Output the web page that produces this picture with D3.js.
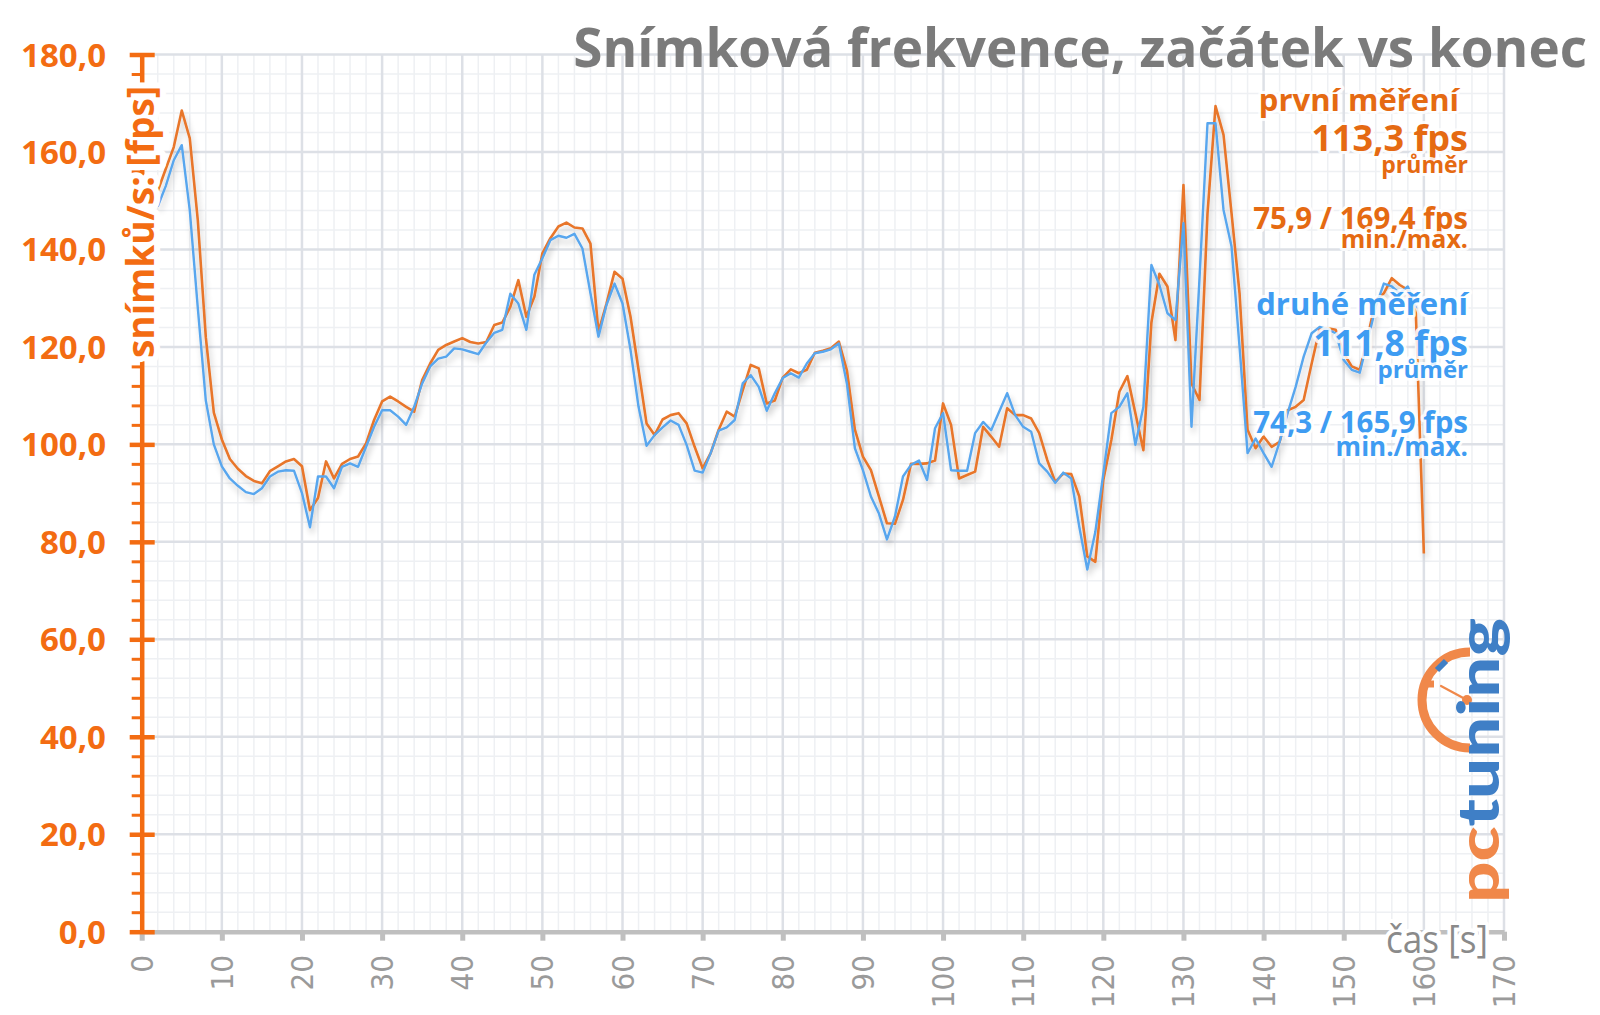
<!DOCTYPE html>
<html><head><meta charset="utf-8">
<script src="https://cdn.jsdelivr.net/npm/d3@7"></script>
<style>html,body{margin:0;padding:0;background:#fff;} svg{display:block;}</style>
</head><body>
<svg id="chart" width="1600" height="1015"></svg>
<script>
// ---------------- DATA ----------------
const secondsFirst = [2,3,4,5,6,7,8,9,10,11,12,13,14,15,16,17,18,19,20,21,22,23,24,25,26,27,28,29,30,31,32,33,34,35,36,37,38,39,40,41,42,43,44,45,46,47,48,49,50,51,52,53,54,55,56,57,58,59,60,61,62,63,64,65,66,67,68,69,70,71,72,73,74,75,76,77,78,79,80,81,82,83,84,85,86,87,88,89,90,91,92,93,94,95,96,97,98,99,100,101,102,103,104,105,106,107,108,109,110,111,112,113,114,115,116,117,118,119,120,121,122,123,124,125,126,127,128,129,130,131,132,133,134,135,136,137,138,139,140,141,142,143,144,145,146,147,148,149,150,151,152,153,154,155,156,157,158,159,160];
const fpsFirst = [152,156.5,161,168.5,162.8,146,122,106.5,101,97,95,93.5,92.5,92,94.5,95.5,96.5,97,95.5,86.5,89,96.5,93,96,97,97.5,100.2,105,108.8,109.8,108.8,107.7,106.7,113.2,116.6,119.4,120.4,121.1,121.8,121,120.7,121,124.5,125,128.2,133.7,126.2,130.3,139.2,142.3,144.7,145.5,144.5,144.3,141.2,123.1,128.9,135.4,134,126.2,115.3,104.3,101.9,105.1,106,106.4,104.3,99.5,95.1,98.2,103,106.7,105.7,111.1,116.3,115.6,108.4,109,113.7,115.4,114.6,115.3,118.8,119.2,119.7,121.1,115.2,103,97.5,94.7,89.3,83.8,83.7,88.6,96,96,96.1,96.7,108.4,104,93,93.7,94.4,103.6,101.6,99.5,107.4,106,106,105.3,102.3,96.8,92.3,94,93.9,89.3,77,75.9,92.7,100.9,110.8,114,106.4,98.8,125,135,132.4,121.4,153.2,112.5,109.1,147.4,169.4,163.5,147.4,131,103,99.2,101.6,99.5,100.5,107,107.7,109.1,116.6,123.8,123.8,123.5,118.7,116,115.3,122.1,129.6,131,134.1,132.7,131.7,126.9,77.6];
const secondsSecond = [2,3,4,5,6,7,8,9,10,11,12,13,14,15,16,17,18,19,20,21,22,23,24,25,26,27,28,29,30,31,32,33,34,35,36,37,38,39,40,41,42,43,44,45,46,47,48,49,50,51,52,53,54,55,56,57,58,59,60,61,62,63,64,65,66,67,68,69,70,71,72,73,74,75,76,77,78,79,80,81,82,83,84,85,86,87,88,89,90,91,92,93,94,95,96,97,98,99,100,101,102,103,104,105,106,107,108,109,110,111,112,113,114,115,116,117,118,119,120,121,122,123,124,125,126,127,128,129,130,131,132,133,134,135,136,137,138,139,140,141,142,143,144,145,146,147,148,149,150,151,152,153,154,155,156,157,158,159];
const fpsSecond = [148.8,153,158.3,161.4,148,128,109,100,95.5,93,91.5,90.2,89.8,91,93.4,94.4,94.7,94.6,90,83,93.4,93.4,91,95.4,96.1,95.4,99.5,103.6,107,107,105.7,104,107.7,112.5,116,117.6,118,119.7,119.5,119,118.5,120.9,122.9,123.5,130.9,128.9,123.5,134.8,138.2,141.9,142.8,142.4,143.2,140.2,131,122.1,128.6,133,128.9,119.4,107.7,99.7,101.9,103.5,104.9,104,99.9,94.6,94.2,98.2,102.8,103.5,105,112.5,114.2,111.8,106.9,110.5,113.6,114.6,113.7,116.6,118.7,119,119.5,120.7,112.5,99.2,94.7,89.3,85.8,80.5,85.2,93.4,95.8,96.7,92.7,103.3,106.4,94.7,94.6,94.6,102.3,104.6,102.9,106.7,110.5,106,103.6,102.6,96.1,94.4,92.1,94.2,93,83.1,74.3,82,94,106.4,107.7,110.5,99.9,107.7,136.8,132.7,126.9,125.5,145.4,103.6,134,165.9,165.9,148.1,140.6,120,98.2,101.2,98.2,95.4,100.5,106.4,111.8,118,122.8,124.1,123.6,122.8,117.3,115.3,114.7,121.4,128.2,133,132.4,131,132.4,128];

const xTickValues = [0,10,20,30,40,50,60,70,80,90,100,110,120,130,140,150,160,170];
const yTickValues = [0,20,40,60,80,100,120,140,160,180];
const yTickLabels = ["0,0","20,0","40,0","60,0","80,0","100,0","120,0","140,0","160,0","180,0"];

const titleText = "Snímková frekvence, začátek vs konec";
const yAxisTitle = "snímků/s: [fps]";
const xAxisTitle = "čas [s]";
const legendFirst = ["první měření","113,3 fps","průměr","75,9 / 169,4 fps","min./max."];
const legendSecond = ["druhé měření","111,8 fps","průměr","74,3 / 165,9 fps","min./max."];

// ---------------- STYLE ----------------
const C = {
  orangeLine: "#E8762C", blueLine: "#58A6EE",
  axisOrange: "#F36C12", legendOrange: "#E56A12", legendBlue: "#3E9CF2",
  title: "#7B7B7B", xText: "#9A9A9A", xAxis: "#BFBFBF",
  gridMajor: "#DDE0E6", gridMinor: "#EEF0F3",
  logoOrange: "#F0884A", logoBlue: "#3F7FC6"
};

const svg = d3.select("#chart");
const x = d3.scaleLinear().domain([0,170]).range([141.7,1504]);
const y = d3.scaleLinear().domain([0,180]).range([931.7,54.5]);

const defs = svg.append("defs");
const f = defs.append("filter").attr("id","shadow").attr("filterUnits","userSpaceOnUse")
  .attr("x",0).attr("y",0).attr("width",1600).attr("height",1015);
f.append("feGaussianBlur").attr("in","SourceAlpha").attr("stdDeviation",3).attr("result","b");
f.append("feOffset").attr("in","b").attr("dx",2).attr("dy",5).attr("result","o");
const ct = f.append("feComponentTransfer").attr("in","o").attr("result","s");
ct.append("feFuncA").attr("type","linear").attr("slope",0.22);
const fm = f.append("feMerge");
fm.append("feMergeNode").attr("in","s");
fm.append("feMergeNode").attr("in","SourceGraphic");

// ---------------- GRID ----------------
const grid = svg.append("g");
const minorX = d3.range(0,171,2), minorY = d3.range(0,181,4);
grid.selectAll(".vx").data(minorX.filter(d=>d%10!==0)).join("line")
  .attr("x1",d=>x(d)).attr("x2",d=>x(d)).attr("y1",y(180)).attr("y2",y(0))
  .attr("stroke",C.gridMinor).attr("stroke-width",1.5);
grid.selectAll(".hy").data(minorY.filter(d=>d%20!==0)).join("line")
  .attr("y1",d=>y(d)).attr("y2",d=>y(d)).attr("x1",x(0)).attr("x2",x(170))
  .attr("stroke",C.gridMinor).attr("stroke-width",1.5);
grid.selectAll(".VX").data(xTickValues).join("line")
  .attr("x1",d=>x(d)).attr("x2",d=>x(d)).attr("y1",y(180)).attr("y2",y(0))
  .attr("stroke",C.gridMajor).attr("stroke-width",2.5);
grid.selectAll(".HY").data(yTickValues).join("line")
  .attr("y1",d=>y(d)).attr("y2",d=>y(d)).attr("x1",x(0)).attr("x2",x(170))
  .attr("stroke",C.gridMajor).attr("stroke-width",2.5);

// ---------------- LOGO ----------------
const logo = svg.append("g");
logo.append("path").attr("d","M1470,652 A48,48 0 0 0 1470,748")
  .attr("fill","none").attr("stroke",C.logoOrange).attr("stroke-width",9);
logo.append("line").attr("x1",1437).attr("y1",670).attr("x2",1446).attr("y2",661)
  .attr("stroke",C.logoBlue).attr("stroke-width",6);
logo.append("line").attr("x1",1426).attr("y1",684).attr("x2",1434).attr("y2",684)
  .attr("stroke",C.logoOrange).attr("stroke-width",7);
logo.append("line").attr("x1",1467).attr("y1",700).attr("x2",1441).attr("y2",686)
  .attr("stroke",C.logoOrange).attr("stroke-width",2.2).attr("stroke-linecap","round");
logo.append("circle").attr("cx",1467).attr("cy",700).attr("r",5).attr("fill",C.logoOrange);
const lt = logo.append("text").attr("transform","translate(1499,903) rotate(-90)")
  .attr("font-family","Lato, 'Open Sans', sans-serif").attr("font-weight",900)
  .attr("font-size",58).attr("textLength",285).attr("lengthAdjust","spacingAndGlyphs");
lt.append("tspan").attr("fill",C.logoOrange).text("pc");
lt.append("tspan").attr("fill",C.logoBlue).text("tuning");

// ---------------- LINES ----------------
const line = d3.line().x(d=>x(d[0])).y(d=>y(d[1]));
const lines = svg.append("g").attr("filter","url(#shadow)");
lines.append("path").datum(d3.zip(secondsFirst,fpsFirst)).attr("d",line)
  .attr("fill","none").attr("stroke",C.orangeLine).attr("stroke-width",2.6).attr("stroke-linejoin","round");
lines.append("path").datum(d3.zip(secondsSecond,fpsSecond)).attr("d",line)
  .attr("fill","none").attr("stroke",C.blueLine).attr("stroke-width",2.4).attr("stroke-linejoin","round");

// ---------------- X AXIS ----------------
const xAxisG = svg.append("g").attr("transform",`translate(0,${y(0)})`)
  .call(d3.axisBottom(x).tickValues(xTickValues).tickSize(9).tickSizeOuter(0).tickFormat(""));
xAxisG.select(".domain").attr("stroke",C.xAxis).attr("stroke-width",4.5);
xAxisG.selectAll(".tick line").attr("stroke",C.xAxis).attr("stroke-width",5);
svg.append("g").selectAll("text").data(xTickValues).join("text")
  .attr("transform",d=>`translate(${x(d)+11},955) rotate(-90)`)
  .attr("text-anchor","end").attr("fill",C.xText)
  .attr("font-family","'Liberation Sans Narrow','DejaVu Sans Condensed',sans-serif")
  .attr("font-size",31).text(d=>d);
svg.append("text").attr("x",1386).attr("y",953).attr("fill","#8A8A8A")
  .attr("font-family","'Open Sans',sans-serif").attr("font-size",38)
  .attr("textLength",102).attr("lengthAdjust","spacingAndGlyphs")
  .attr("stroke","#fff").attr("stroke-width",8).attr("paint-order","stroke").attr("stroke-linejoin","round")
  .text(xAxisTitle);

// ---------------- Y AXIS ----------------
const yMinor = d3.range(0,181,4).filter(d=>d%20!==0);
const yMinG = svg.append("g").attr("transform",`translate(${x(0)},0)`)
  .call(d3.axisLeft(y).tickValues(yMinor).tickSize(10).tickSizeOuter(0).tickFormat(""));
yMinG.select(".domain").remove();
yMinG.selectAll(".tick line").attr("stroke",C.axisOrange).attr("stroke-width",3);
const yAxisG = svg.append("g").attr("transform",`translate(${x(0)},0)`)
  .call(d3.axisLeft(y).tickValues(yTickValues).tickSize(12).tickSizeOuter(0).tickFormat(""));
yAxisG.select(".domain").attr("stroke",C.axisOrange).attr("stroke-width",4.5);
yAxisG.selectAll(".tick line").attr("x2",-12).attr("x1",13).attr("stroke",C.axisOrange).attr("stroke-width",4.5);
svg.append("g").selectAll("text").data(yTickValues).join("text")
  .attr("x",106).attr("y",d=>y(d)+12).attr("text-anchor","end").attr("fill",C.axisOrange)
  .attr("font-family","'Open Sans',sans-serif").attr("font-weight",700).attr("font-size",33)
  .text((d,i)=>yTickLabels[i]);
svg.append("text").attr("transform",`translate(154,222) rotate(-90)`)
  .attr("text-anchor","middle").attr("fill",C.axisOrange)
  .attr("font-family","'Open Sans',sans-serif").attr("font-weight",700).attr("font-size",37)
  .attr("stroke","#fff").attr("stroke-width",12).attr("paint-order","stroke").attr("stroke-linejoin","round")
  .text(yAxisTitle);

// ---------------- TITLE ----------------
svg.append("text").attr("x",1587).attr("y",67).attr("text-anchor","end").attr("fill",C.title)
  .attr("font-family","'Open Sans',sans-serif").attr("font-weight",700).attr("font-size",53)
  .text(titleText);

// ---------------- LEGEND TEXT ----------------
function legend(lines, color, ys, sizes, xs) {
  svg.append("g").selectAll("text").data(lines).join("text")
    .attr("x",(d,i)=>xs[i]).attr("y",(d,i)=>ys[i]).attr("text-anchor","end").attr("fill",color)
    .attr("font-family","'Open Sans',sans-serif").attr("font-weight",700)
    .attr("font-size",(d,i)=>sizes[i])
    .attr("stroke","rgba(255,255,255,0.85)").attr("stroke-width",6).attr("paint-order","stroke").attr("stroke-linejoin","round")
    .text(d=>d);
}
legend(legendFirst, C.legendOrange, [111,151,173,229,248], [31,36,23,29.5,25], [1459,1468,1468,1468,1468]);
legend(legendSecond, C.legendBlue, [315,356,378,433,456], [31,35.5,24,29.5,26], [1468,1468,1468,1468,1468]);
</script>
</body></html>
